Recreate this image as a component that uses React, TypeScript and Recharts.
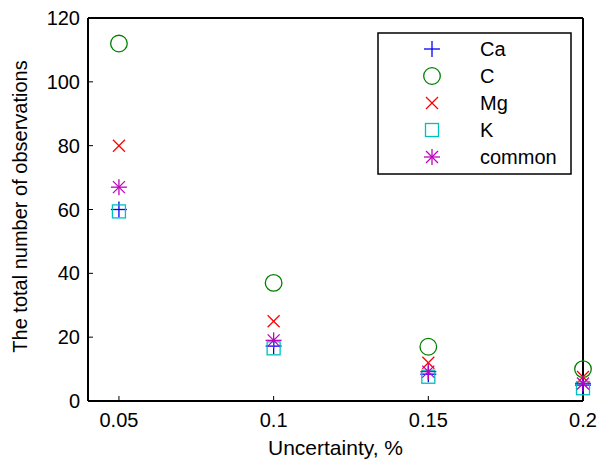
import React from "react";
import {
  ScatterChart,
  Scatter,
  XAxis,
  YAxis,
  Legend,
  Label,
} from "recharts";

const uncertainty = [0.05, 0.1, 0.15, 0.2];
const caValues = [60, 17.2, 8.4, 5];
const cValues = [112, 37, 17, 10];
const mgValues = [80, 25, 12, 7.5];
const kValues = [59.4, 16.5, 7.6, 4];
const commonValues = [67, 19, 9.2, 5.5];

const xTicks = [0.05, 0.1, 0.15, 0.2];
const yTicks = [0, 20, 40, 60, 80, 100, 120];

const FONT = "'Liberation Sans', Arial, Helvetica, sans-serif";

type Kind = "plus" | "circle" | "cross" | "square" | "star";

const series: { name: string; color: string; kind: Kind; values: number[] }[] = [
  { name: "Ca", color: "#0000ff", kind: "plus", values: caValues },
  { name: "C", color: "#008000", kind: "circle", values: cValues },
  { name: "Mg", color: "#ff0000", kind: "cross", values: mgValues },
  { name: "K", color: "#00bfbf", kind: "square", values: kValues },
  { name: "common", color: "#bf00bf", kind: "star", values: commonValues },
];

const toPoints = (values: number[]) =>
  uncertainty.map((x, i) => ({ x, y: values[i] }));

function Marker({ kind, color, cx, cy }: { kind: Kind; color: string; cx: number; cy: number }) {
  const p = { stroke: color, strokeWidth: 1.3, fill: "none" };
  if (kind === "plus") {
    return (
      <g {...p}>
        <line x1={cx - 8} y1={cy} x2={cx + 8} y2={cy} />
        <line x1={cx} y1={cy - 8} x2={cx} y2={cy + 8} />
      </g>
    );
  }
  if (kind === "circle") return <circle cx={cx} cy={cy} r={8.3} {...p} />;
  if (kind === "cross") {
    return (
      <g {...p}>
        <line x1={cx - 6} y1={cy - 6} x2={cx + 6} y2={cy + 6} />
        <line x1={cx - 6} y1={cy + 6} x2={cx + 6} y2={cy - 6} />
      </g>
    );
  }
  if (kind === "square") return <rect x={cx - 6.5} y={cy - 6.5} width={13} height={13} {...p} />;
  return (
    <g {...p}>
      <line x1={cx - 8} y1={cy} x2={cx + 8} y2={cy} />
      <line x1={cx} y1={cy - 8} x2={cx} y2={cy + 8} />
      <line x1={cx - 6} y1={cy - 6} x2={cx + 6} y2={cy + 6} />
      <line x1={cx - 6} y1={cy + 6} x2={cx + 6} y2={cy - 6} />
    </g>
  );
}

function LegendBox() {
  return (
    <svg width={195} height={143} style={{ display: "block" }}>
      <rect x={1} y={1} width={193} height={141} fill="#fff" stroke="#000" strokeWidth={1.5} />
      {series.map((s, i) => {
        const cy = 17 + i * 27;
        return (
          <g key={s.name}>
            <Marker kind={s.kind} color={s.color} cx={55} cy={cy} />
            <text x={103} y={cy + 7} fontSize={20} fill="#000" fontFamily={FONT}>
              {s.name}
            </text>
          </g>
        );
      })}
    </svg>
  );
}

export default function App() {
  const axisLine = { stroke: "#000", strokeWidth: 2 };
  const tickLine = { stroke: "#000", strokeWidth: 1 };
  const tickStyle = { fontSize: 20, fill: "#000", fontFamily: FONT };
  return (
    <div style={{ position: "absolute", left: 0, top: 0, fontFamily: FONT }}>
      <ScatterChart width={600} height={459} margin={{ top: 0, right: 0, bottom: 0, left: 0 }}>
        <XAxis
          dataKey="x"
          type="number"
          domain={[0.04, 0.2]}
          ticks={xTicks}
          height={58}
          axisLine={axisLine}
          tickLine={tickLine}
          tickSize={-5}
          tickMargin={17}
          tick={tickStyle}
        >
          <Label
            content={({ viewBox }: any) => (
              <text
                x={viewBox.x + viewBox.width / 2}
                y={455}
                textAnchor="middle"
                fontSize={21}
                fill="#000"
                fontFamily={FONT}
              >
                Uncertainty, %
              </text>
            )}
          />
        </XAxis>
        <XAxis
          xAxisId="top"
          orientation="top"
          type="number"
          domain={[0.04, 0.2]}
          ticks={xTicks}
          height={18}
          axisLine={axisLine}
          tickLine={tickLine}
          tickSize={-5}
          tick={false}
        />
        <YAxis
          dataKey="y"
          type="number"
          domain={[0, 120]}
          ticks={yTicks}
          width={88}
          axisLine={axisLine}
          tickLine={tickLine}
          tickSize={-5}
          tickMargin={13}
          tick={tickStyle}
        >
          <Label
            content={({ viewBox }: any) => {
              const cy = viewBox.y + viewBox.height / 2 - 3;
              return (
                <text
                  x={27}
                  y={cy}
                  transform={`rotate(-90, 27, ${cy})`}
                  textAnchor="middle"
                  fontSize={20}
                  fill="#000"
                  fontFamily={FONT}
                >
                  The total number of observations
                </text>
              );
            }}
          />
        </YAxis>
        <YAxis
          yAxisId="right"
          orientation="right"
          type="number"
          domain={[0, 120]}
          ticks={yTicks}
          width={17}
          axisLine={axisLine}
          tickLine={tickLine}
          tickSize={-5}
          tick={false}
        />
        <Legend
          layout="horizontal"
          verticalAlign="middle"
          align="center"
          wrapperStyle={{ left: 377, top: 32, width: 195, height: 143 }}
          content={() => <LegendBox />}
        />
        {series.map((s) => (
          <Scatter
            key={s.name}
            name={s.name}
            data={toPoints(s.values)}
            isAnimationActive={false}
            shape={(props: any) => (
              <Marker kind={s.kind} color={s.color} cx={props.cx} cy={props.cy} />
            )}
          />
        ))}
      </ScatterChart>
    </div>
  );
}
